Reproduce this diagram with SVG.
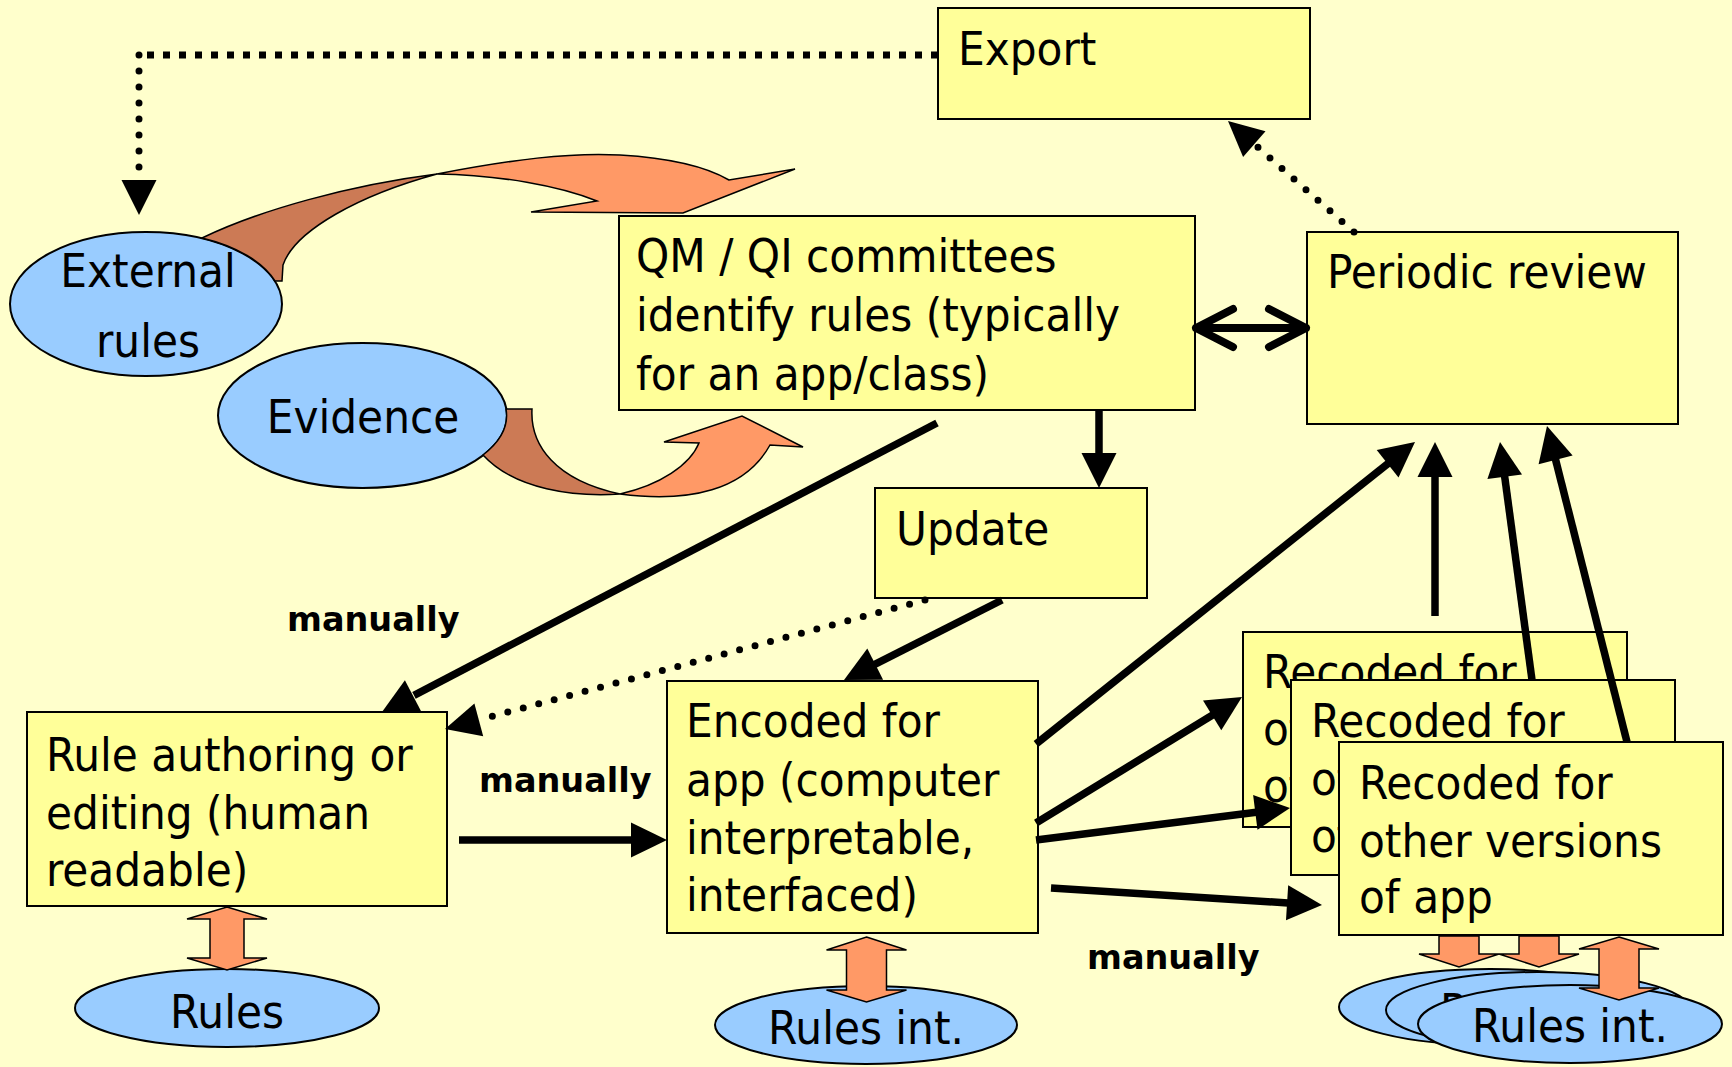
<svg xmlns="http://www.w3.org/2000/svg" width="1732" height="1067" viewBox="0 0 1732 1067">
<style>
.bg{fill:#ffffcc}
.box{fill:#ffff99;stroke:#000;stroke-width:2}
.ell{fill:#99ccff;stroke:#000;stroke-width:2}
.t{font-family:"DejaVu Sans Condensed","DejaVu Sans",sans-serif;font-stretch:condensed;font-size:47px;fill:#000}
.tc{text-anchor:middle}
.lbl{font-family:"DejaVu Sans","Liberation Sans",sans-serif;font-weight:bold;font-size:33.5px;fill:#000}
.ln{stroke:#000;stroke-width:7.5;fill:none}
.hd{fill:#000}
.dot{stroke:#000;stroke-width:7;fill:none;stroke-linecap:round;stroke-dasharray:0 16}
.sq{stroke:#000;stroke-width:7;fill:none;stroke-dasharray:7 9}
.blk{fill:#ff9966;stroke:#000;stroke-width:1.5}
.drk{fill:#cc7a55;stroke:#000;stroke-width:1.5}
.dbl{stroke:#000;stroke-width:8;fill:none;stroke-linecap:round;stroke-linejoin:round}
</style>
<rect class="bg" x="0" y="0" width="1732" height="1067"/>

<g id="nodes">
  <g id="export">
    <rect class="box" x="938" y="8" width="372" height="111"/>
    <text class="t" x="958" y="65">Export</text>
  </g>
  <g id="qm">
    <rect class="box" x="619" y="216" width="576" height="194"/>
    <text class="t" x="636" y="272">QM / QI committees</text>
    <text class="t" x="636" y="331">identify rules (typically</text>
    <text class="t" x="636" y="390">for an app/class)</text>
  </g>
  <g id="periodic">
    <rect class="box" x="1307" y="232" width="371" height="192"/>
    <text class="t" x="1327" y="288">Periodic review</text>
  </g>
  <g id="update">
    <rect class="box" x="875" y="488" width="272" height="110"/>
    <text class="t" x="896" y="545">Update</text>
  </g>
  <g id="rule-authoring">
    <rect class="box" x="27" y="712" width="420" height="194"/>
    <text class="t" x="46" y="771">Rule authoring or</text>
    <text class="t" x="46" y="829">editing (human</text>
    <text class="t" x="46" y="886">readable)</text>
  </g>
  <g id="encoded">
    <rect class="box" x="667" y="681" width="371" height="252"/>
    <text class="t" x="686" y="737">Encoded for</text>
    <text class="t" x="686" y="796">app (computer</text>
    <text class="t" x="686" y="854">interpretable,</text>
    <text class="t" x="686" y="911">interfaced)</text>
  </g>
  <g id="recoded-1">
    <rect class="box" x="1243" y="632" width="384" height="195"/>
    <text class="t" x="1263" y="688">Recoded for</text>
    <text class="t" x="1263" y="745">other versions</text>
    <text class="t" x="1263" y="802">of app</text>
  </g>
  <g id="recoded-2">
    <rect class="box" x="1291" y="680" width="384" height="195"/>
    <text class="t" x="1311" y="737">Recoded for</text>
    <text class="t" x="1311" y="795">other versions</text>
    <text class="t" x="1311" y="852">of app</text>
  </g>
  <g id="recoded-3">
    <rect class="box" x="1339" y="742" width="384" height="193"/>
    <text class="t" x="1359" y="799">Recoded for</text>
    <text class="t" x="1359" y="857">other versions</text>
    <text class="t" x="1359" y="913">of app</text>
  </g>
  <g id="external-rules">
    <ellipse class="ell" cx="146" cy="304" rx="136" ry="72"/>
    <text class="t tc" x="148" y="287">External</text>
    <text class="t tc" x="148" y="357">rules</text>
  </g>
  <g id="evidence">
    <ellipse class="ell" cx="362.5" cy="415.5" rx="144.5" ry="72.5"/>
    <text class="t tc" x="363" y="433">Evidence</text>
  </g>
  <g id="rules">
    <ellipse class="ell" cx="227" cy="1008" rx="152" ry="39"/>
    <text class="t tc" x="227" y="1028">Rules</text>
  </g>
  <g id="rules-int">
    <ellipse class="ell" cx="866" cy="1025" rx="151" ry="39"/>
    <text class="t tc" x="866" y="1044">Rules int.</text>
  </g>
  <g id="rules-int-1">
    <ellipse class="ell" cx="1490" cy="1007" rx="151" ry="38"/>
  </g>
  <g id="rules-int-2">
    <ellipse class="ell" cx="1538" cy="1010" rx="152" ry="38"/>
    <text class="t tc" x="1538" y="1027">Rules int.</text>
  </g>
  <g id="rules-int-3">
    <ellipse class="ell" cx="1570" cy="1024" rx="152" ry="39"/>
    <text class="t tc" x="1570" y="1042">Rules int.</text>
  </g>
</g>

<g id="connectors">
  <!-- curved block arrows -->
  <path class="drk" d="M 202,238 C 260,210 350,185 437,174 C 360,195 295,230 283,265 L 282,281 L 275,281 A 136 72 0 0 0 202,238 Z"/>
  <path class="blk" d="M 437,174 C 510,160 570,152 620,155 C 670,158 705,166 729,180 L 795,169 L 683,213 L 531,212 L 597,201 C 560,186 500,175 437,174 Z"/>
  <path class="drk" d="M 506,409 L 532,409 C 530,445 555,480 620,494 C 575,497 515,490 483,455 A 144.5 72.5 0 0 0 506,409 Z"/>
  <path class="blk" d="M 620,494 C 690,503 745,490 770,445 L 803,447 L 742,416 L 664,442 L 699,443 C 690,465 660,485 620,494 Z"/>

  <!-- orange vertical block arrows -->
  <polygon class="blk" points="227,907 267,919 244,919 244,958 267,958 227,970 187,958 210,958 210,919 187,919"/>
  <polygon class="blk" points="866.5,937 906.5,950 886.5,950 886.5,990 906.5,990 866.5,1002 826.5,990 846.5,990 846.5,950 826.5,950"/>
  <polygon class="blk" points="1439,936 1479,936 1479,954 1499,954 1459,967 1419,954 1439,954"/>
  <polygon class="blk" points="1519,936 1559,936 1559,954 1579,954 1539,967 1499,954 1519,954"/>
  <polygon class="blk" points="1619,937 1659,949 1639,949 1639,988 1659,988 1619,1000 1579,988 1599,988 1599,949 1579,949"/>

  <!-- dotted connectors -->
  <path class="sq" d="M 938,55 H 146"/>
  <path class="dot" d="M 139,55 V 172"/>
  <polygon class="hd" points="121.5,180 156.5,180 139,215"/>
  <path class="dot" d="M 1354,232 L 1254.3,144.1"/>
  <polygon class="hd" points="1228,121 1265.5,131.3 1243.1,156.9"/>
  <path class="dot" d="M 925,600 L 478.8,719.9"/>
  <polygon class="hd" points="445,729 483.2,736.3 474.4,703.5"/>

  <!-- double arrow QM <-> Periodic -->
  <path class="dbl" d="M 1196,328 H 1306 M 1233,309 L 1196,328 L 1233,347 M 1269,309 L 1306,328 L 1269,347"/>

  <!-- solid connectors -->
  <line class="ln" x1="1099" y1="410" x2="1099" y2="454"/>
  <polygon class="hd" points="1081.5,453 1116.5,453 1099,488"/>
  <line class="ln" x1="937" y1="423" x2="414" y2="695.3"/>
  <polygon class="hd" points="382,712 421.1,711.3 404.9,680.3"/>
  <line class="ln" x1="459" y1="840" x2="632" y2="840"/>
  <polygon class="hd" points="631,822.5 667,840 631,857.5"/>
  <line class="ln" x1="1002" y1="600" x2="874.3" y2="664.7"/>
  <polygon class="hd" points="844,680 883.1,679.8 867.3,648.6"/>
  <line class="ln" x1="1036" y1="744" x2="1388.4" y2="463.2"/>
  <polygon class="hd" points="1415,442 1398.5,477.5 1376.7,450.1"/>
  <line class="ln" x1="1435" y1="616" x2="1435" y2="476"/>
  <polygon class="hd" points="1417.5,477 1452.5,477 1435,442"/>
  <line class="ln" x1="1532" y1="680" x2="1504.6" y2="476"/>
  <polygon class="hd" points="1500,442 1522,474.4 1487.4,479"/>
  <line class="ln" x1="1627" y1="742" x2="1555.4" y2="459"/>
  <polygon class="hd" points="1547,426 1572.6,455.6 1538.6,464.2"/>
  <line class="ln" x1="1036" y1="823" x2="1213" y2="714.8"/>
  <polygon class="hd" points="1242,697 1221.3,730.2 1203,700.4"/>
  <line class="ln" x1="1036" y1="840" x2="1256.3" y2="812.3"/>
  <polygon class="hd" points="1290,808 1257.5,829.7 1253.1,795"/>
  <line class="ln" x1="1051" y1="888" x2="1288" y2="902.9"/>
  <polygon class="hd" points="1322,905 1286,920.3 1288.2,885.3"/>
</g>

<g id="labels">
  <text class="lbl" x="287" y="631">manually</text>
  <text class="lbl" x="479" y="792">manually</text>
  <text class="lbl" x="1087" y="969">manually</text>
</g>
</svg>
